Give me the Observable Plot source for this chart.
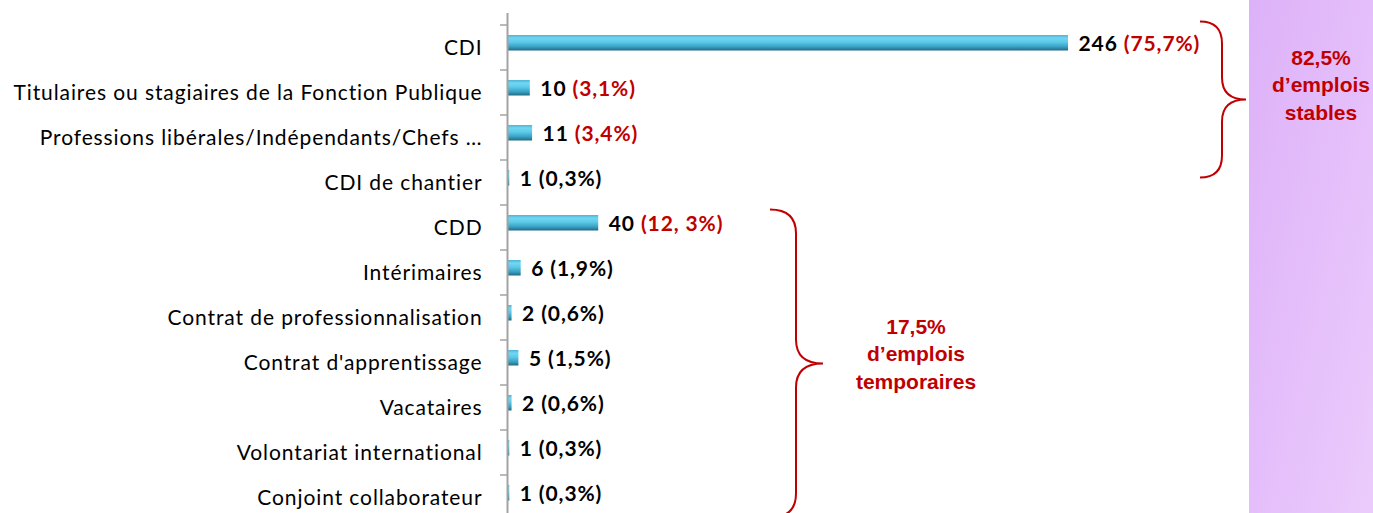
<!DOCTYPE html>
<html><head><meta charset="utf-8">
<script src="https://cdn.jsdelivr.net/npm/d3@7"></script>
<script src="https://cdn.jsdelivr.net/npm/@observablehq/plot@0.6"></script>
<style>body{margin:0;background:#fff;overflow:hidden;} svg{overflow:visible;}</style>
</head><body><div id="chart"></div>
<script>
const categories = [
  "CDI",
  "Titulaires ou stagiaires de la Fonction Publique",
  "Professions libérales/Indépendants/Chefs …",
  "CDI de chantier",
  "CDD",
  "Intérimaires",
  "Contrat de professionnalisation",
  "Contrat d'apprentissage",
  "Vacataires",
  "Volontariat international",
  "Conjoint collaborateur"
];
const counts = [246, 10, 11, 1, 40, 6, 2, 5, 2, 1, 1];
const percents = ["75,7%", "3,1%", "3,4%", "0,3%", "12, 3%", "1,9%", "0,6%", "1,5%", "0,6%", "0,3%", "0,3%"];
const redPercent = [true, true, true, false, true, false, false, false, false, false, false];
const groupLabels = [["82,5%", "d’emplois", "stables"], ["17,5%", "d’emplois", "temporaires"]];
const groupFrom = ["CDI", "CDD"];
const groupTo = ["CDI de chantier", "Conjoint collaborateur"];

const data = categories.map((c, i) => ({category: c, count: counts[i], pct: percents[i], red: redPercent[i]}));
const labelOf = d => `${d.count} (${d.pct})`;

const W = 1373, H = 513;
const RED = "#c00000";
const bandStep = 45.45;

const plot = Plot.plot({
  width: W, height: H,
  marginLeft: 507, marginRight: 0, marginTop: 0, marginBottom: 0,
  x: {domain: [0, 246], range: [507, 1068], axis: null},
  y: {domain: categories, range: [22.5, 22.5 + categories.length * bandStep], padding: 0},
  style: {fontFamily: "Lato, sans-serif", background: "transparent", color: "#000"},
  marks: [
    Plot.axisY({tickSize: 0, tickPadding: 25, fontSize: 21, fill: "#000", label: null}),
    Plot.barX(data, {x: "count", y: "category", fill: "url(#barGrad)", insetTop: 10, insetBottom: 19.5}),
    Plot.ruleX([0], {stroke: "#a3a3a3", strokeWidth: 2, insetTop: 13}),
    Plot.text(data, {x: "count", y: "category", text: labelOf, dx: 10, dy: -4,
      textAnchor: "start", fontWeight: "bold", fontSize: 21, fill: "#000"})
  ]
});

document.getElementById("chart").appendChild(plot);
const svg = d3.select(plot);

// letter spacing for the category tick labels (Calibri-like width)
svg.selectAll('g[aria-label="y-axis tick label"] text').attr("letter-spacing", "0.9px");

// gradients
const defs = svg.insert("defs", ":first-child");
const bg = defs.append("linearGradient").attr("id", "barGrad").attr("x1", 0).attr("y1", 0).attr("x2", 0).attr("y2", 1);
[[0, "#4cb4d4"], [0.2, "#72d6f2"], [0.45, "#5ccae9"], [0.75, "#3aa2c4"], [1, "#1f6a84"]]
  .forEach(([o, c]) => bg.append("stop").attr("offset", o).attr("stop-color", c));
const pg = defs.append("linearGradient").attr("id", "panelGrad").attr("x1", 0).attr("y1", 0).attr("x2", 1).attr("y2", 1);
pg.append("stop").attr("offset", 0).attr("stop-color", "#ddb1f8");
pg.append("stop").attr("offset", 1).attr("stop-color", "#ebcbfc");

// side panel behind everything
svg.insert("rect", "defs + *").attr("x", 1249).attr("y", 0).attr("width", W - 1249).attr("height", H).attr("fill", "url(#panelGrad)");

// rich value labels: black count, red or black percentage
const labels = data.map(labelOf);
svg.selectAll("text").each(function() {
  const i = labels.indexOf(this.textContent);
  if (i < 0) return;
  const d = data[i];
  const t = d3.select(this);
  t.text(null).attr("letter-spacing", "0.9px");
  t.append("tspan").attr("fill", "#000").attr("font-weight", "bold").text(`${d.count} `);
  t.append("tspan").attr("fill", d.red ? RED : "#000").attr("font-weight", "bold").text(`(${d.pct})`);
});

// axis ticks at band boundaries
const ys = plot.scale("y");
const bw = ys.bandwidth;
const y0 = ys.apply(categories[0]);
const gT = svg.append("g");
for (let i = 0; i <= categories.length; i++) {
  gT.append("line").attr("x1", 500).attr("x2", 507).attr("y1", y0 + i * bw).attr("y2", y0 + i * bw)
    .attr("stroke", "#a3a3a3").attr("stroke-width", 1.5);
}

// braces + group labels
const center = c => ys.apply(c) + bw / 2;
function brace(x0, x1, x2, top, bottom, r) {
  const mid = (top + bottom) / 2;
  return `M${x0},${top} Q${x1},${top} ${x1},${top + r} L${x1},${mid - r} Q${x1},${mid} ${x2},${mid}` +
         ` Q${x1},${mid} ${x1},${mid + r} L${x1},${bottom - r} Q${x1},${bottom} ${x0},${bottom}`;
}
const braceSpecs = [
  {x0: 1200, x1: 1222, x2: 1246, top: center(groupFrom[0]) - 26, bottom: center(groupTo[0]) - 5, r: 22, tx: 1321, ty: -42},
  {x0: 770, x1: 796, x2: 823, top: center(groupFrom[1]) - 18, bottom: center(groupTo[1]) + 20, r: 24, tx: 916, ty: -37}
];
braceSpecs.forEach((b, gi) => {
  svg.append("path").attr("d", brace(b.x0, b.x1, b.x2, b.top, b.bottom, b.r))
    .attr("fill", "none").attr("stroke", RED).attr("stroke-width", 2);
  const mid = (b.top + b.bottom) / 2;
  const txt = svg.append("text").attr("text-anchor", "middle").attr("fill", RED)
    .attr("font-family", "'Liberation Sans', Arial, sans-serif").attr("font-weight", "bold").attr("font-size", 21);
  groupLabels[gi].forEach((line, li) => {
    txt.append("tspan").attr("x", b.tx).attr("y", mid + b.ty + li * 27.5).attr("dy", "0.35em").text(line);
  });
});
</script>
</body></html>
